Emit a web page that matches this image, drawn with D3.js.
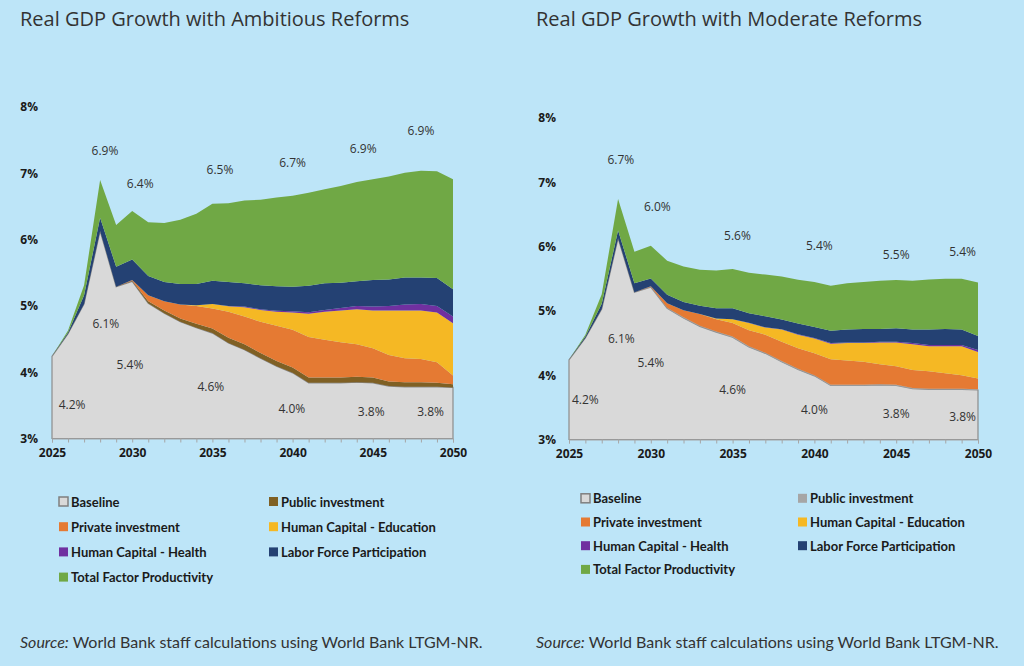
<!DOCTYPE html>
<html>
<head>
<meta charset="utf-8">
<script src="https://cdn.jsdelivr.net/npm/d3@7"></script>
<style>
  body { margin: 0; background: #bde5f8; }
  svg { display: block; }
</style>
</head>
<body>
<div id="chart"></div>
<script>
// years on the x axis
var years = [2025, 2026, 2027, 2028, 2029, 2030, 2031, 2032, 2033, 2034, 2035, 2036, 2037,
             2038, 2039, 2040, 2041, 2042, 2043, 2044, 2045, 2046, 2047, 2048, 2049, 2050];
var xTickLabels = [2025, 2030, 2035, 2040, 2045, 2050];
var yTicks = [3, 4, 5, 6, 7, 8];

var seriesNames = ["Baseline", "Public investment", "Private investment", "Human Capital - Education",
                   "Human Capital - Health", "Labor Force Participation", "Total Factor Productivity"];

// baseline growth (same in both scenarios), percent
var baseline = [4.24, 4.58, 5.03, 6.13, 5.29, 5.37, 5.04, 4.89, 4.76, 4.67, 4.59, 4.44, 4.34,
                4.21, 4.09, 3.99, 3.84, 3.84, 3.84, 3.85, 3.84, 3.79, 3.78, 3.78, 3.78, 3.77];

// Ambitious reforms: contributions, percentage points
var ambPublic = [0, 0, 0, 0, 0, 0.01, 0.03, 0.04, 0.05, 0.06, 0.07, 0.08, 0.08,
                 0.08, 0.08, 0.08, 0.08, 0.08, 0.08, 0.08, 0.08, 0.07, 0.07, 0.07, 0.06, 0.05];
var ambPrivate = [0, 0, 0, 0, 0, 0.01, 0.09, 0.14, 0.21, 0.27, 0.30, 0.39, 0.42,
                  0.47, 0.53, 0.57, 0.61, 0.57, 0.53, 0.49, 0.44, 0.40, 0.36, 0.35, 0.31, 0.13];
var ambEducation = [0, 0, 0, 0, 0, 0, 0, 0, 0, 0.01, 0.07, 0.085, 0.14,
                    0.18, 0.21, 0.26, 0.35, 0.42, 0.48, 0.53, 0.57, 0.67, 0.72, 0.73, 0.75, 0.79];
var ambHealth = [0, 0, 0, 0, 0, 0, 0, 0, 0, 0, 0, 0.005, 0.01,
                 0.01, 0.015, 0.02, 0.025, 0.03, 0.04, 0.05, 0.06, 0.07, 0.09, 0.10, 0.10, 0.10];
var ambLabor = [0, 0.02, 0.13, 0.20, 0.30, 0.31, 0.29, 0.29, 0.31, 0.32, 0.35, 0.36, 0.35,
                0.36, 0.37, 0.37, 0.40, 0.40, 0.38, 0.37, 0.40, 0.40, 0.41, 0.40, 0.42, 0.41];
var ambTfp = [0, 0.03, 0.15, 0.57, 0.63, 0.73, 0.81, 0.89, 0.97, 1.06, 1.16, 1.19, 1.25,
              1.29, 1.34, 1.37, 1.40, 1.42, 1.46, 1.50, 1.52, 1.55, 1.58, 1.61, 1.61, 1.66];

// Moderate reforms
var modPublic = [0, 0, 0, 0, 0, 0.005, 0.01, 0.01, 0.01, 0.01, 0.01, 0.01, 0.01,
                 0.01, 0.01, 0.01, 0.01, 0.01, 0.01, 0.01, 0.01, 0.01, 0.01, 0.01, 0.01, 0.01];
var modPrivate = [0, 0, 0, 0, 0, 0.01, 0.07, 0.11, 0.18, 0.19, 0.21, 0.25, 0.28,
                  0.30, 0.32, 0.34, 0.40, 0.38, 0.36, 0.31, 0.29, 0.28, 0.27, 0.24, 0.21, 0.17];
var modEducation = [0, 0, 0, 0, 0, 0, 0, 0, 0, 0.01, 0.06, 0.11, 0.11,
                    0.19, 0.21, 0.23, 0.24, 0.27, 0.29, 0.34, 0.37, 0.40, 0.39, 0.42, 0.45, 0.41];
var modHealth = [0, 0, 0, 0, 0, 0, 0, 0, 0, 0, 0, 0.005, 0.005,
                 0.005, 0.005, 0.01, 0.01, 0.01, 0.01, 0.01, 0.01, 0.02, 0.02, 0.02, 0.02, 0.03];
var modLabor = [0, 0.02, 0.08, 0.12, 0.14, 0.12, 0.13, 0.13, 0.13, 0.16, 0.17, 0.15, 0.17,
                0.15, 0.17, 0.17, 0.19, 0.20, 0.21, 0.20, 0.21, 0.21, 0.24, 0.25, 0.24, 0.22];
var modTfp = [0, 0.03, 0.15, 0.49, 0.49, 0.51, 0.53, 0.55, 0.56, 0.59, 0.61, 0.63, 0.65,
              0.67, 0.68, 0.70, 0.70, 0.72, 0.73, 0.75, 0.75, 0.76, 0.78, 0.78, 0.79, 0.83];

// value labels: [year position, value position, text]
var ambLabels = [
  [2026.25, 3.52, "4.2%"], [2028.36, 4.73, "6.1%"], [2029.86, 4.11, "5.4%"], [2034.9, 3.78, "4.6%"],
  [2039.95, 3.46, "4.0%"], [2044.9, 3.40, "3.8%"], [2048.6, 3.40, "3.8%"],
  [2028.3, 7.35, "6.9%"], [2030.5, 6.84, "6.4%"], [2035.47, 7.05, "6.5%"], [2040.0, 7.16, "6.7%"],
  [2044.4, 7.37, "6.9%"], [2048.0, 7.64, "6.9%"]
];
var modLabels = [
  [2026.0, 3.62, "4.2%"], [2028.2, 4.57, "6.1%"], [2030.0, 4.20, "5.4%"], [2035.0, 3.78, "4.6%"],
  [2040.0, 3.47, "4.0%"], [2045.0, 3.40, "3.8%"], [2049.06, 3.36, "3.8%"],
  [2028.17, 7.36, "6.7%"], [2030.4, 6.63, "6.0%"], [2035.3, 6.17, "5.6%"], [2040.3, 6.02, "5.4%"],
  [2045.0, 5.88, "5.5%"], [2049.06, 5.93, "5.4%"]
];

var sourceText = "World Bank staff calculations using World Bank LTGM-NR.";

var svgWidth = 1024;
var svgHeight = 666;

var svg = d3.select("#chart")
  .append("svg")
  .attr("width", svgWidth)
  .attr("height", svgHeight);

svg.append("rect")
  .attr("width", svgWidth)
  .attr("height", svgHeight)
  .attr("fill", "#bde5f8");

function drawPanel(p) {
  var rows = years.map(function(yr, i) {
    var row = { year: yr };
    p.series.forEach(function(s, k) { row[seriesNames[k]] = s[i]; });
    return row;
  });

  var x = d3.scaleLinear().domain([2025, 2050]).range([p.left, p.right]);
  var y = d3.scaleLinear().domain([3, 8]).range([p.bottom, p.top]);

  // stack starts at the 3% floor of the axis
  var stacked = d3.stack().keys(seriesNames)(rows.map(function(r) {
    var c = Object.assign({}, r);
    c["Baseline"] = r["Baseline"] - 3;
    return c;
  }));

  var area = d3.area()
    .x(function(d) { return x(d.data.year); })
    .y0(function(d) { return y(d[0] + 3); })
    .y1(function(d) { return y(d[1] + 3); });

  var g = svg.append("g");

  g.selectAll("path.layer")
    .data(stacked)
    .enter()
    .append("path")
    .attr("class", "layer")
    .attr("d", area)
    .attr("fill", function(d, i) { return p.colors[i]; })
    .attr("stroke", function(d, i) { return i === 0 ? "#8c8c8c" : "none"; })
    .attr("stroke-width", function(d, i) { return i === 0 ? 1.2 : 0; });

  // x axis
  var xAxis = d3.axisBottom(x)
    .tickValues(years)
    .tickSize(4)
    .tickPadding(6)
    .tickFormat(function(d) { return xTickLabels.indexOf(d) >= 0 ? d : ""; });

  var xg = g.append("g")
    .attr("transform", "translate(0," + p.bottom + ")")
    .call(xAxis);
  xg.select(".domain").attr("stroke", "#a6a6a6");
  xg.selectAll(".tick line").attr("stroke", "#a6a6a6");
  xg.selectAll("text")
    .attr("font-family", "'Open Sans', sans-serif")
    .attr("font-weight", "bold")
    .attr("font-size", "12px")
    .attr("fill", "#1a1a1a");

  // y axis (labels only)
  var yAxis = d3.axisLeft(y)
    .tickValues(yTicks)
    .tickSize(0)
    .tickPadding(2)
    .tickFormat(function(d) { return d + "%"; });

  var yg = g.append("g")
    .attr("transform", "translate(" + p.yAxisX + ",0)")
    .call(yAxis);
  yg.select(".domain").remove();
  yg.selectAll("text")
    .attr("font-family", "'Open Sans', sans-serif")
    .attr("font-weight", "bold")
    .attr("font-size", "12px")
    .attr("fill", "#1a1a1a");

  // value labels
  g.selectAll("text.val")
    .data(p.labels)
    .enter()
    .append("text")
    .attr("class", "val")
    .attr("x", function(d) { return x(d[0]); })
    .attr("y", function(d) { return y(d[1]); })
    .attr("text-anchor", "middle")
    .attr("dominant-baseline", "central")
    .attr("font-family", "'Open Sans', sans-serif")
    .attr("font-size", "12px")
    .attr("fill", "#333")
    .text(function(d) { return d[2]; });

  // title
  svg.append("text")
    .attr("x", p.titleX)
    .attr("y", 26)
    .attr("font-family", "'Open Sans', sans-serif")
    .attr("font-size", "20px")
    .attr("fill", "#333")
    .text(p.title);

  // legend
  var legend = svg.append("g");
  var items = legend.selectAll("g")
    .data(seriesNames)
    .enter()
    .append("g")
    .attr("transform", function(d, i) {
      var col = i % 2, row = Math.floor(i / 2);
      return "translate(" + p.legendCols[col] + "," + (p.legendTop + row * p.legendRow) + ")";
    });
  items.append("rect")
    .attr("x", 0)
    .attr("y", -4.5)
    .attr("width", 9)
    .attr("height", 9)
    .attr("fill", function(d, i) { return p.colors[i]; })
    .attr("stroke", function(d, i) { return i === 0 ? "#7f7f7f" : "none"; })
    .attr("stroke-width", 1.5);
  items.append("text")
    .attr("x", 12)
    .attr("y", 0)
    .attr("dominant-baseline", "central")
    .attr("font-family", "Lato, sans-serif")
    .attr("font-weight", "bold")
    .attr("font-size", "13px")
    .attr("fill", "#1a1a1a")
    .text(function(d) { return d; });

  // source note
  var src = svg.append("text")
    .attr("x", p.titleX)
    .attr("y", 648)
    .attr("font-family", "Lato, sans-serif")
    .attr("font-size", "16px")
    .attr("fill", "#333");
  src.append("tspan").attr("font-style", "italic").text("Source:");
  src.append("tspan").text(" " + sourceText);
}

drawPanel({
  title: "Real GDP Growth with Ambitious Reforms",
  titleX: 20,
  left: 52, right: 453, bottom: 438.5, top: 107,
  yAxisX: 40,
  series: [baseline, ambPublic, ambPrivate, ambEducation, ambHealth, ambLabor, ambTfp],
  colors: ["#d9d9d9", "#7f6024", "#e57a33", "#f5b824", "#7030a0", "#244173", "#70a845"],
  labels: ambLabels,
  legendCols: [59, 269],
  legendTop: 501.5,
  legendRow: 25.2
});

drawPanel({
  title: "Real GDP Growth with Moderate Reforms",
  titleX: 536,
  left: 569, right: 978, bottom: 439.5, top: 118,
  yAxisX: 558,
  series: [baseline, modPublic, modPrivate, modEducation, modHealth, modLabor, modTfp],
  colors: ["#d9d9d9", "#a6a6a6", "#e57a33", "#f5b824", "#7030a0", "#244173", "#70a845"],
  labels: modLabels,
  legendCols: [581, 798],
  legendTop: 498.3,
  legendRow: 23.7
});
</script>
</body>
</html>
